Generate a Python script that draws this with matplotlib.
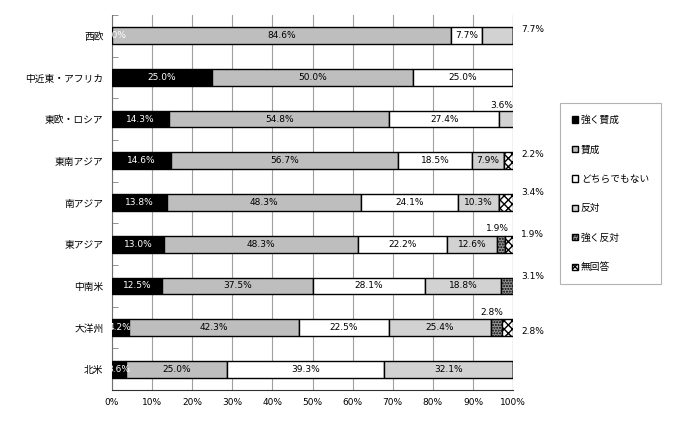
import numpy as np
import matplotlib
matplotlib.use("Agg")
import matplotlib.pyplot as plt

plt.rcParams['font.family'] = ['Noto Sans CJK JP', 'DejaVu Sans']
plt.rcParams['hatch.linewidth'] = 1.0

regions = ["西欧", "中近東・アフリカ", "東欧・ロシア", "東南アジア", "南アジア",
           "東アジア", "中南米", "大洋州", "北米"]
series = ["強く賛成", "賛成", "どちらでもない", "反対", "強く反対", "無回答"]

strong_yes = [0.0, 25.0, 14.3, 14.6, 13.8, 13.0, 12.5, 4.2, 3.6]
yes        = [84.6, 50.0, 54.8, 56.7, 48.3, 48.3, 37.5, 42.3, 25.0]
neutral    = [7.7, 25.0, 27.4, 18.5, 24.1, 22.2, 28.1, 22.5, 39.3]
no         = [7.7, 0.0, 3.6, 7.9, 10.3, 12.6, 18.8, 25.4, 32.1]
strong_no  = [0.0, 0.0, 0.0, 0.0, 0.0, 1.9, 3.1, 2.8, 0.0]
no_answer  = [0.0, 0.0, 0.0, 2.2, 3.4, 1.9, 0.0, 2.8, 0.0]

values = [strong_yes, yes, neutral, no, strong_no, no_answer]
faces = ["black", "#bebebe", "white", "#d2d2d2", "#9a9a9a", "white"]
hatches = [None, None, None, None, "......", "xxxx"]
txtcol = ["white", "black", "black", "black", "black", "black"]

# labels written outside the bars: (row, series index, where, dy)
outside = [(0, 3, "right", -0.15), (2, 3, "above", -0.32),
           (3, 5, "right", -0.15), (4, 5, "right", -0.24),
           (5, 4, "above", -0.38), (5, 5, "right", -0.24),
           (6, 4, "right", -0.22), (7, 4, "above", -0.36),
           (7, 5, "right", 0.1)]
skip = {(r, k) for r, k, _, _ in outside}

fig = plt.figure(figsize=(7, 4.25), dpi=100)
ax = fig.add_axes([0.16, 0.082, 0.573, 0.883])

y = np.arange(len(regions))
left = np.zeros(len(regions))
lefts = []
for k, (vals, name) in enumerate(zip(values, series)):
    vals = np.array(vals)
    lefts.append(left.copy())
    ax.barh(y, vals, left=left, height=0.4, color=faces[k], edgecolor="black",
            linewidth=1.0, hatch=hatches[k], label=name, zorder=3)
    for i, v in enumerate(vals):
        if (i, k) in skip or k >= 4:
            continue
        if v >= 3.5 or (k == 0 and i == 0):
            ax.text(left[i] + v / 2 if v > 0 else 0.8, y[i], f"{v:.1f}%",
                    ha="center", va="center", fontsize=6.5, color=txtcol[k],
                    family="DejaVu Sans", zorder=4)
    left += vals

for r, k, where, dy in outside:
    v = values[k][r]
    if where == "right":
        ax.text(102, r + dy, f"{v:.1f}%", ha="left", va="center",
                fontsize=6.5, family="DejaVu Sans", clip_on=False)
    else:
        ax.text(lefts[k][r] + v / 2 - 1.0, r + dy, f"{v:.1f}%", ha="center",
                va="center", fontsize=6.5, family="DejaVu Sans")

ax.set_xlim(0, 100)
ax.set_ylim(len(regions) - 0.5, -0.5)
ax.set_xticks(np.arange(0, 101, 10))
ax.set_xticklabels([f"{t}%" for t in range(0, 101, 10)], family="DejaVu Sans",
                   fontsize=6.5)
ax.set_yticks(y)
ax.set_yticklabels(regions, fontsize=7)
ax.set_yticks(np.arange(-0.5, len(regions), 1), minor=True)
ax.tick_params(axis="y", which="major", length=0, pad=6)
ax.tick_params(axis="y", which="minor", direction="in", length=4, color="#808080")
ax.tick_params(axis="x", length=0, pad=6)
ax.grid(axis="x", color="#a0a0a0", linewidth=0.8, zorder=0)
for s in ["top", "right"]:
    ax.spines[s].set_visible(False)
ax.spines["left"].set_color("#707070")
ax.spines["bottom"].set_color("#303030")
ax.axvline(100, color="#707070", linewidth=0.8, zorder=1)

leg = fig.legend(loc="upper left", bbox_to_anchor=(0.80, 0.758), fontsize=7,
                 handlelength=0.6, handleheight=0.6, labelspacing=2.0,
                 borderpad=1.25, handletextpad=0.3, fancybox=False,
                 borderaxespad=0, edgecolor="#a0a0a0")
leg.get_frame().set_linewidth(0.8)

fig.savefig("out.png", dpi=100)
